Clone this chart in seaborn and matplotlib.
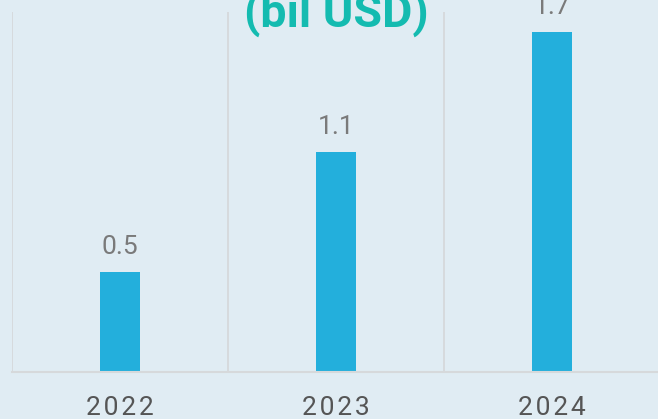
import matplotlib
matplotlib.use("Agg")
import matplotlib.pyplot as plt
import seaborn as sns

# data
years = ["2022", "2023", "2024"]
revenue = [0.5, 1.1, 1.7]
title = "(bil USD)"

BG = "#e0ecf3"
BAR = "#23afdc"
TEAL = "#14bbb0"
GRID = "#d6d9db"

sns.set_theme(style="white")
plt.rcParams["font.family"] = ["Roboto", "DejaVu Sans"]

fig = plt.figure(figsize=(6.58, 4.19), dpi=100, facecolor=BG)
ax = fig.add_axes([12 / 658, 47 / 419, 648 / 658, 360 / 419])
ax.set_facecolor(BG)

sns.barplot(x=years, y=revenue, color=BAR, width=0.185, saturation=1,
            linewidth=0, ax=ax)

ax.set_xlim(-0.5, 2.5)
ax.set_ylim(0, 1.8)

# value labels
for i, v in enumerate(revenue):
    ax.annotate(f"{v}", (i, v), xytext=(0, 13), textcoords="offset points",
                ha="center", va="baseline", fontsize=19, color="#7a7a7a")

# category separators
ax.set_xticks([-0.5, 0.5, 1.5, 2.5], minor=True)
ax.grid(True, which="minor", axis="x", color=GRID, linewidth=1.3)
ax.set_yticks([])
ax.tick_params(axis="x", which="both", length=0, pad=17, labelsize=19,
               labelcolor="#555555")
ax.set_xticklabels(["\u200a".join(y) for y in years])

for side in ["top", "right", "left"]:
    ax.spines[side].set_visible(False)
ax.spines["bottom"].set_color(GRID)
ax.spines["bottom"].set_linewidth(1.5)

ax.text(1, 1.725, title, ha="center", va="baseline", fontsize=33.5,
        fontweight="bold", color=TEAL, clip_on=False)

ax.set_xlabel("")
ax.set_ylabel("")
fig.savefig("out.png", dpi=100, facecolor=BG)
